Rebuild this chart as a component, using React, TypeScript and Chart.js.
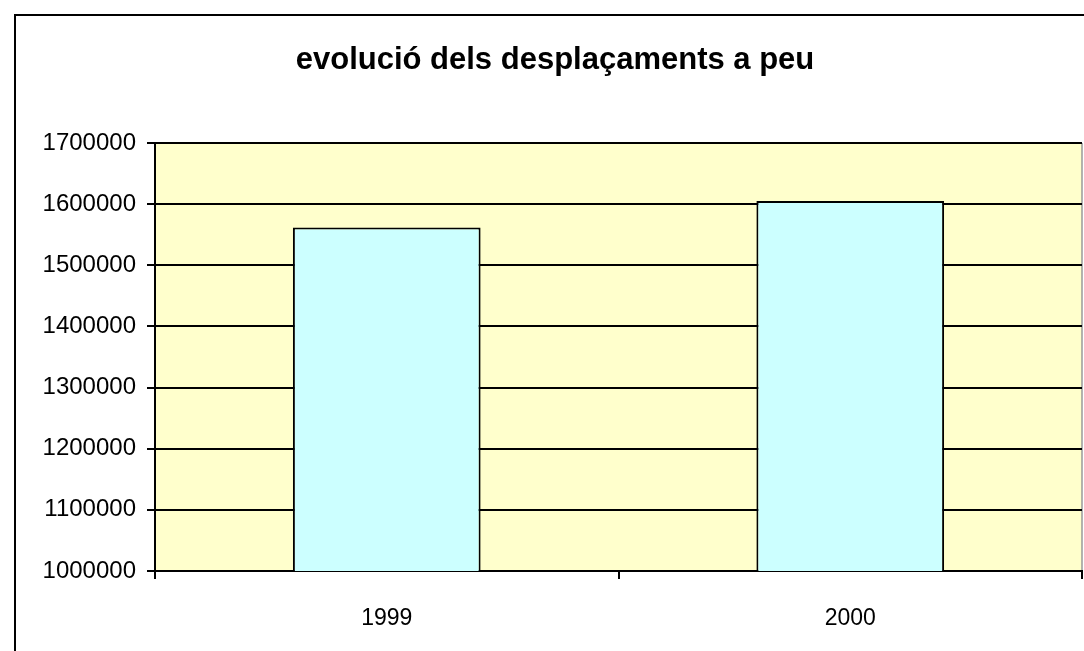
import React, { useEffect, useRef } from "react";
import { Chart, registerables } from "chart.js";

Chart.register(...registerables);

const categories: string[] = ["1999", "2000"];
const walkingTrips: number[] = [1562000, 1605000];
const titleText = "evolució dels desplaçaments a peu";
const yMin = 1000000;
const yMax = 1700000;
const yStep = 100000;

const framePlugin = {
  id: "frameAndBg",
  beforeDraw(chart: any) {
    const ctx = chart.ctx;
    const a = chart.chartArea;
    ctx.save();
    ctx.fillStyle = "#ffffff";
    ctx.fillRect(0, 0, chart.width, chart.height);
    ctx.strokeStyle = "#000000";
    ctx.lineWidth = 2;
    ctx.strokeRect(15, 15, chart.width + 20, chart.height + 20);
    ctx.fillStyle = "#FFFFCC";
    ctx.fillRect(a.left, a.top, a.right - a.left, a.bottom - a.top);
    ctx.strokeStyle = "#9a9a9a";
    ctx.lineWidth = 1.5;
    ctx.beginPath();
    ctx.moveTo(a.right, a.top);
    ctx.lineTo(a.right, a.bottom);
    ctx.stroke();
    ctx.fillStyle = "#000000";
    ctx.font = "bold 31px 'Liberation Sans', Arial, sans-serif";
    ctx.textAlign = "center";
    ctx.textBaseline = "middle";
    ctx.fillText(titleText, 555, 60);
    ctx.restore();
  },
};

export default function App() {
  const ref = useRef<HTMLCanvasElement | null>(null);
  useEffect(() => {
    if (!ref.current) return;
    const chart = new Chart(ref.current, {
      type: "bar",
      data: {
        labels: categories,
        datasets: [
          {
            data: walkingTrips,
            backgroundColor: "#CCFFFF",
            borderColor: "#000000",
            borderWidth: 2,
            barPercentage: 0.405,
            categoryPercentage: 1,
          },
        ],
      },
      options: {
        animation: false,
        responsive: false,
        layout: { padding: { left: 0, right: 2, top: 143, bottom: 0 } },
        plugins: {
          legend: { display: false },
          title: { display: false },
          tooltip: { enabled: false },
        },
        scales: {
          x: {
            offset: true,
            grid: {
              offset: true,
              drawOnChartArea: false,
              drawTicks: true,
              tickLength: 8,
              color: "#000000",
              lineWidth: 2,
            },
            border: { display: true, color: "#000000", width: 2 },
            ticks: {
              color: "#000000",
              padding: 26,
              font: { family: "'Liberation Sans', Arial, sans-serif", size: 23 },
            },
            afterFit(scale: any) {
              scale.height = 80;
            },
          },
          y: {
            min: yMin,
            max: yMax,
            grid: {
              color: "#000000",
              lineWidth: 2,
              drawTicks: true,
              tickLength: 8,
            },
            border: { display: true, color: "#000000", width: 2 },
            ticks: {
              stepSize: yStep,
              color: "#000000",
              padding: 11,
              font: { family: "'Liberation Sans', Arial, sans-serif", size: 24 },
              callback: (v: any) => String(v),
            },
            afterFit(scale: any) {
              scale.width = 155;
            },
          },
        },
      },
      plugins: [framePlugin],
    });
    return () => chart.destroy();
  }, []);
  return (
    <div style={{ position: "fixed", left: 0, top: 0, width: 1084, height: 651 }}>
      <canvas ref={ref} width={1084} height={651} style={{ width: 1084, height: 651, display: "block" }} />
    </div>
  );
}
